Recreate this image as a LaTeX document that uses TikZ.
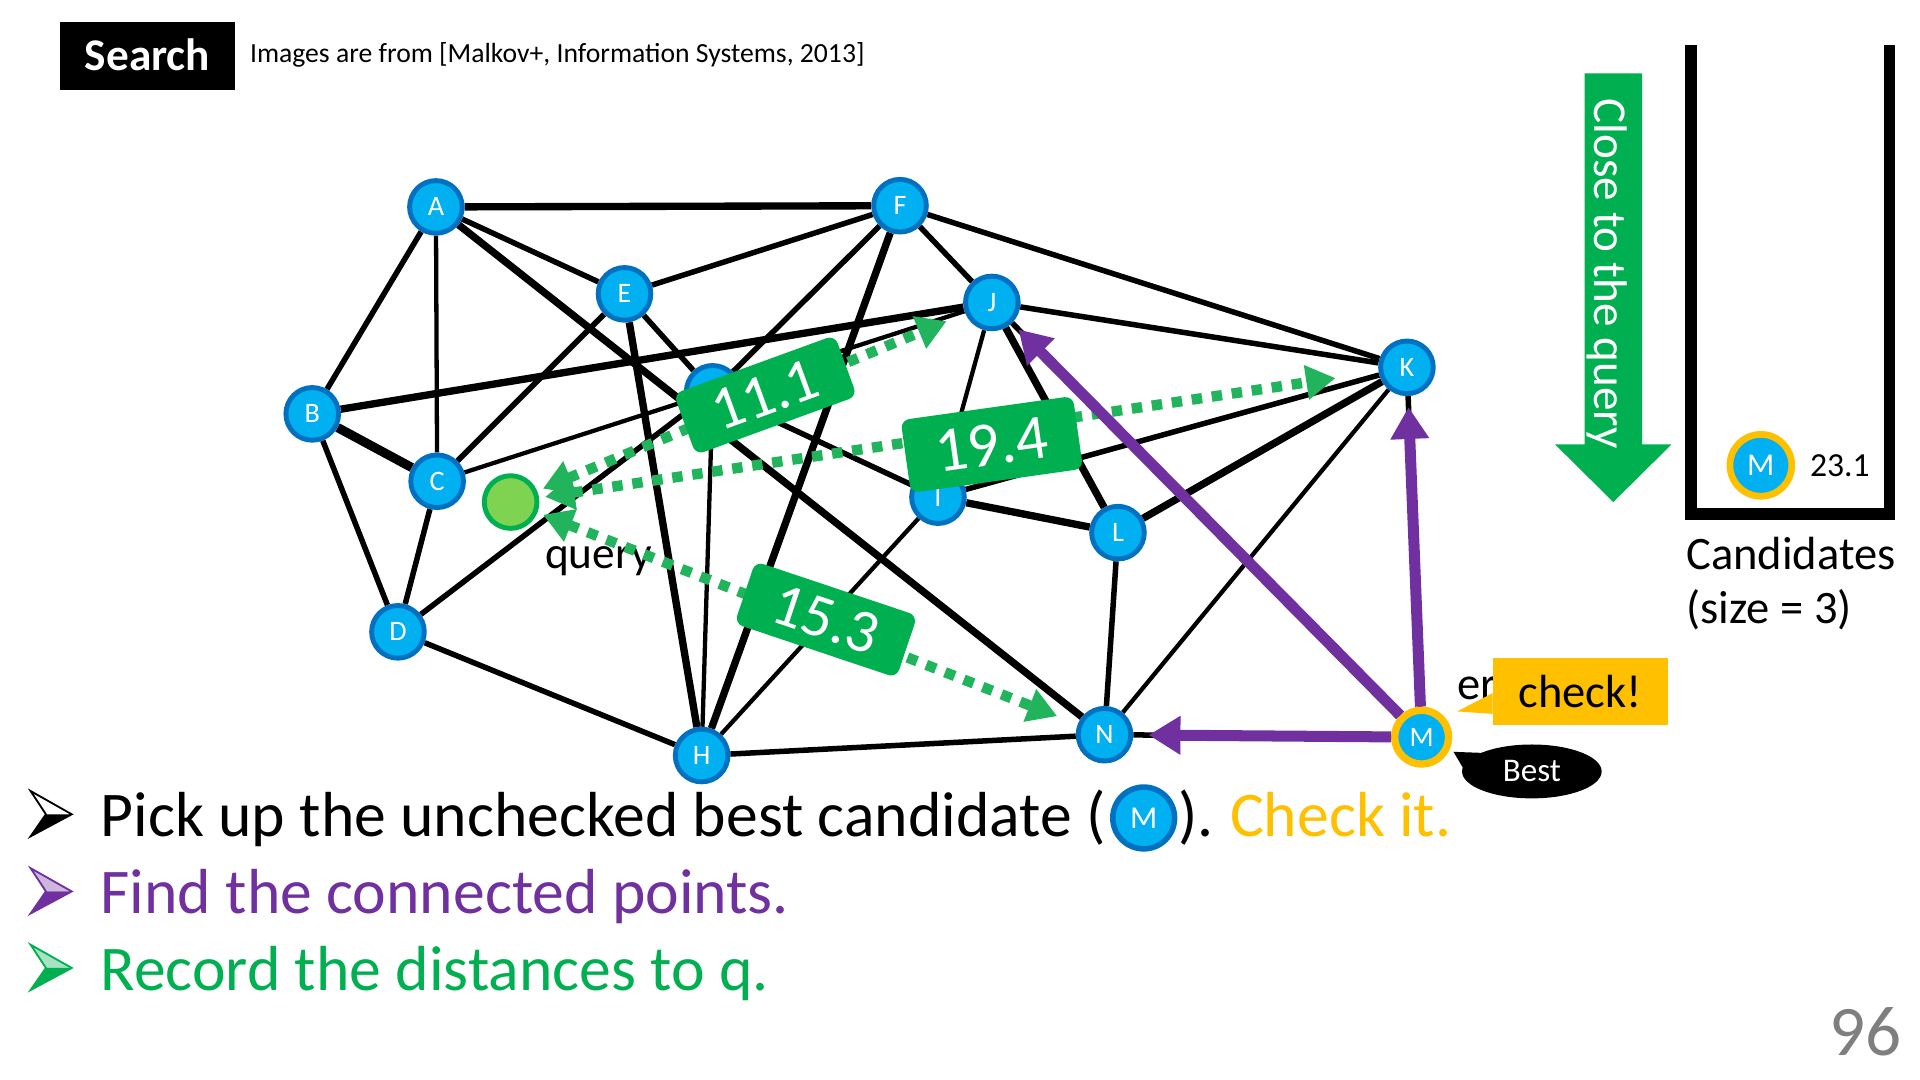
\documentclass[tikz,border=0pt]{standalone}
\usepackage{fontspec}
\setmainfont{Carlito}
\usetikzlibrary{arrows.meta,shapes.geometric,calc}
\definecolor{nblue}{HTML}{00B0F0}
\definecolor{nborder}{HTML}{0070C0}
\definecolor{ppurple}{HTML}{7030A0}
\definecolor{bgreen}{HTML}{00B050}
\definecolor{dgreen}{HTML}{22B45C}
\definecolor{qfill}{HTML}{7ED350}
\definecolor{yel}{HTML}{FFC000}
\definecolor{pgray}{HTML}{7F7F7F}
\newcommand{\fsz}[1]{\fontsize{#1}{#1}\selectfont}
\pgfdeclarelayer{edges}
\pgfsetlayers{edges,main}
\begin{document}
\begin{tikzpicture}[x=1pt,y=-1pt,
 gnode/.style={circle, fill=nblue, draw=nborder, line width=4pt, minimum size=43pt, inner sep=0pt, text=white, font=\fsz{23}},
 ynode/.style={circle, fill=nblue, draw=yel, line width=6pt, minimum size=44pt, inner sep=0pt, text=white, font=\fsz{23}},
 ethin/.style={line width=3.5pt},
 enorm/.style={line width=4.5pt},
 ethick/.style={line width=6pt},
 evthick/.style={line width=7.5pt},
 darrow/.style={draw=dgreen, line width=8.5pt, dash pattern=on 8.5pt off 8pt, {Triangle[length=24pt,width=27pt]}-{Triangle[length=24pt,width=27pt]}},
 parrow/.style={draw=ppurple, line width=9pt, -{Triangle[length=26pt,width=30pt]}},
 lbl/.style={fill=bgreen, rounded corners=7pt, inner sep=0pt, text=white, font=\fsz{50}},
 txt/.style={inner sep=0pt, anchor=base west},
]
\useasboundingbox (0,0) rectangle (1568,882);
\begin{pgfonlayer}{edges}
\fill[white] (0,0) rectangle (1568,882);
\end{pgfonlayer}

% header
\node[fill=black, minimum width=143pt, minimum height=55.5pt, inner sep=0pt] (sbox) at (120.5,45.75) {};
\node[txt, anchor=base, text=white, font=\fsz{37}\bfseries] (stxt) at (120.5,57.7) {Search};
\node[txt, font=\fsz{22.6}] (src) at (204,51) {Images are from [Malkov+, Information Systems, 2013]};

% graph nodes
\node[gnode] (A) at (356,169) {A};
\node[gnode] (F) at (735,168) {F};
\node[gnode] (E) at (510,240) {E};
\node[gnode] (J) at (810,247) {J};
\node[gnode] (B) at (255,338) {B};
\node[gnode] (K) at (1149,300) {K};
\node[gnode] (C) at (357,393) {C};
\node[gnode] (G) at (582,320) {G};
\node[gnode] (I) at (766,406) {I};
\node[gnode] (L) at (913,435) {L};
\node[gnode] (D) at (325,516) {D};
\node[gnode] (H) at (573,617) {H};
\node[gnode] (N) at (902,600) {N};
\node[ynode] (M) at (1161,602) {M};
\node[circle, fill=qfill, draw=bgreen, line width=4pt, minimum size=43pt, inner sep=0pt] (query) at (417,410) {};
\node[txt, font=\fsz{37}] (qlbl) at (445,464) {query};

\begin{pgfonlayer}{edges}
\draw[ethick] (A) -- (F);
\draw[enorm] (A) -- (B);
\draw[ethin] (A) -- (C);
\draw[enorm] (A) -- (E);
\draw[ethick] (A) -- (N);
\draw[ethick] (B) -- (J);
\draw[evthick] (B) -- (C);
\draw[enorm] (B) -- (D);
\draw[enorm] (C) -- (D);
\draw[enorm] (C) -- (E);
\draw[ethin] (C) -- (J);
\draw[enorm] (D) -- (G);
\draw[enorm] (D) -- (H);
\draw[enorm] (E) -- (F);
\draw[enorm] (E) -- (G);
\draw[ethick] (E) -- (H);
\draw[enorm] (F) -- (G);
\draw[ethick] (F) -- (H);
\draw[enorm] (F) -- (J);
\draw[enorm] (F) -- (K);
\draw[ethin] (G) -- (H);
\draw[enorm] (G) -- (I);
\draw[enorm] (H) -- (N);
\draw[ethin] (H) -- (I);
\draw[ethick] (I) -- (L);
\draw[enorm] (I) -- (K);
\draw[enorm] (J) -- (K);
\draw[ethin] (J) -- (I);
\draw[ethick] (J) -- (L);
\draw[ethick] (L) -- (K);
\draw[enorm] (L) -- (N);
\draw[ethin] (K) -- (N);
\draw[enorm] (M) -- (J);
\draw[enorm] (M) -- (K);
\draw[enorm] (M) -- (N);
\end{pgfonlayer}

% distance arrows
\draw[darrow, shorten <=5pt, shorten >=16.5pt] (query) -- (J);
\draw[darrow, shorten <=5pt, shorten >=35.5pt] (query) -- (K);
\draw[darrow, shorten <=5pt, shorten >=18pt] (query) -- (N);
\node[lbl, minimum width=140pt, minimum height=53pt, rotate=20] (d11) at (625,322.6) {11.1};
\node[lbl, minimum width=142pt, minimum height=60pt, rotate=8, font=\fsz{52}] (d19) at (810,363) {19.4};
\node[lbl, minimum width=139.5pt, minimum height=53.5pt, rotate=-18.5] (d15) at (674.5,506) {15.3};

% purple neighbour arrows
\draw[parrow, shorten >=12.5pt] (M) -- (N);
\draw[parrow, shorten >=9pt] (M) -- (K);
\draw[parrow, shorten >=7.5pt] (M) -- (J);

% callouts
\node[txt, font=\fsz{38}] (er) at (1190,571) {er};
\fill[yel] (1219,566) -- (1190,581) -- (1219,583) -- cycle;
\node[fill=yel, minimum width=143pt, minimum height=55pt, inner sep=0pt, font=\fsz{38}] (chk) at (1290.5,564.5) {check!};
\node[ellipse, fill=black, minimum width=114pt, minimum height=44pt, inner sep=0pt, text=white, font=\fsz{27}] (best) at (1251,630) {Best};
\coordinate (btip) at (1187,614);
\fill[black] (btip) -- (best.160) -- (best.195) -- cycle;

% close-to-query arrow
\fill[bgreen] (1294,60) -- (1341,60) -- (1341,363) -- (1365,363) -- (1317.5,410) -- (1270,363) -- (1294,363) -- cycle;
\node[txt, anchor=base, rotate=-90, text=white, font=\fsz{38.5}] (close) at (1302,223.5) {Close to the query};

% candidates box
\draw[line width=9.5pt, line join=miter] (1381,37) -- (1381,420) -- (1543,420) -- (1543,37);
\node[ynode, minimum size=50.5pt, line width=5.5pt, font=\fsz{26}] (cm) at (1438,380) {M};
\node[txt, font=\fsz{27.5}] (cval) at (1478,389.5) {23.1};
\node[txt, font=\fsz{38}] (cand1) at (1377,465) {Candidates};
\node[txt, font=\fsz{38}] (cand2) at (1377,509.5) {(size = 3)};

% bullets
\fill[white] (25,646) -- (58.6,665) -- (37.5,665) -- cycle;
\fill[black] (37.5,665) -- (58.6,665) -- (25,683) -- cycle;
\draw[black, line width=1.5pt, line join=miter] (25,646) -- (58.6,665) -- (25,683) -- (37.5,665) -- cycle;
\fill[ppurple!35] (25,709) -- (58.6,728) -- (37.5,728) -- cycle;
\fill[ppurple] (37.5,728) -- (58.6,728) -- (25,746) -- cycle;
\draw[ppurple, line width=1.5pt, line join=miter] (25,709) -- (58.6,728) -- (25,746) -- (37.5,728) -- cycle;
\fill[bgreen!35] (25,771.5) -- (58.6,790.5) -- (37.5,790.5) -- cycle;
\fill[bgreen] (37.5,790.5) -- (58.6,790.5) -- (25,808.5) -- cycle;
\draw[bgreen, line width=1.5pt, line join=miter] (25,771.5) -- (58.6,790.5) -- (25,808.5) -- (37.5,790.5) -- cycle;

% bullet texts
\node[txt, font=\fsz{52}] (t1a) at (82,683) {Pick up the unchecked best candidate (};
\node[gnode, minimum size=50.5pt, line width=4.5pt, font=\fsz{26}] (mic) at (934,668) {M};
\node[txt, font=\fsz{52}] (t1b) at (962,683) {).};
\node[txt, font=\fsz{52}, text=yel] (t1c) at ([xshift=13pt]t1b.base east) {Check it.};
\node[txt, font=\fsz{52}, text=ppurple] (t2) at (82,746) {Find the connected points.};
\node[txt, font=\fsz{52}, text=bgreen] (t3) at (82,808.5) {Record the distances to q.};

% page number
\node[txt, anchor=base east, text=pgray, font=\fsz{58}] (pg) at (1553,862) {96};
\end{tikzpicture}
\end{document}
